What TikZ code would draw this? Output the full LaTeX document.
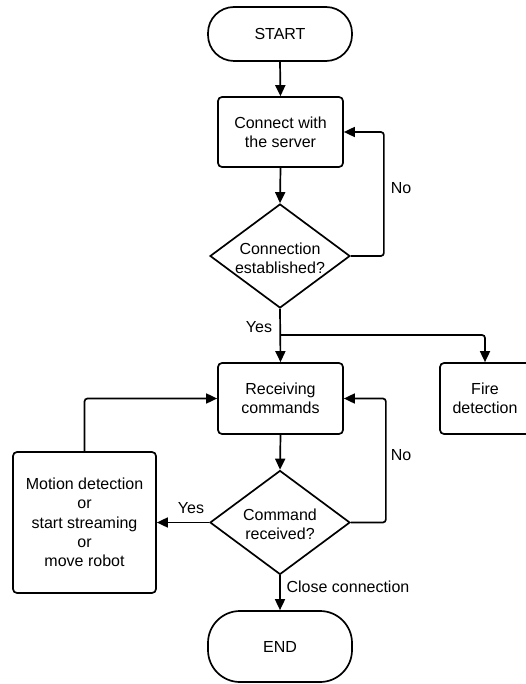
\documentclass[tikz,border=0pt]{standalone}
\usepackage{fontspec}
\setmainfont{Liberation Sans}
\usetikzlibrary{shapes.geometric,arrows.meta}
\begin{document}
\begin{tikzpicture}[x=1pt,y=-1pt,
  every node/.style={font=\fontsize{16}{19.3}\selectfont},
  box/.style={draw,line width=1.7pt,rounded corners=4pt,align=center,inner sep=0pt},
  term/.style={draw,line width=1.7pt,align=center,inner sep=0pt},
  dia/.style={draw,line width=1.7pt,diamond,inner sep=0pt,minimum width=140pt,minimum height=104pt},
  txt/.style={align=center,inner sep=0pt},
  arr/.style={line width=1.7pt,rounded corners=3pt,-{Triangle[length=11pt,width=10pt]}},
  ln/.style={line width=1.7pt,rounded corners=3pt}]
\useasboundingbox (0,0) rectangle (526,684);
\node[term,rounded corners=26pt,minimum width=144pt,minimum height=54pt] (start) at (280,34) {START};
\node[box,minimum width=125pt,minimum height=70pt] (conn) at (280.5,132) {Connect with\\the server};
\node[dia] (d1) at (280,256) {};
\node[txt] (d1t) at (280,258) {Connection\\established?};
\node[box,minimum width=125pt,minimum height=71pt] (rc) at (280.5,398.5) {Receiving\\commands};
\node[box,minimum width=90pt,minimum height=71pt] (fire) at (485,398.5) {Fire\\detection};
\node[dia] (d2) at (280,522.5) {};
\node[txt] (d2t) at (280,524) {Command\\received?};
\node[box,minimum width=143pt,minimum height=141pt] (mot) at (84.5,522.5) {Motion detection\\or\\start streaming\\or\\move robot};
\node[term,rounded corners=32pt,minimum width=144pt,minimum height=71pt] (end) at (280,646.5) {END};
\coordinate (br) at (280.5,335);
\draw[arr] (start.south) -- (conn.north);
\draw[arr] (conn.south) -- (d1.north);
\draw[arr] (d1.east) -- ++(33,0) |- (conn.east);
\draw[arr] (d1.south) -- (rc.north);
\draw[arr] (br) -| (fire.north);
\draw[arr] (rc.south) -- (d2.north);
\draw[arr] (d2.east) -- ++(35,0) |- (rc.east);
\draw[arr] (d2.west) -- (mot.east);
\draw[arr] (mot.north) |- (rc.west);
\draw[arr] (d2.south) -- (end.north);
\node[txt] (no1) at (401,188) {No};
\node[txt] (yes1) at (259,327) {Yes};
\node[txt] (no2) at (401,455) {No};
\node[txt] (yes2) at (191,508) {Yes};
\node[txt] (close) at (348,587) {Close connection};
\end{tikzpicture}
\end{document}
